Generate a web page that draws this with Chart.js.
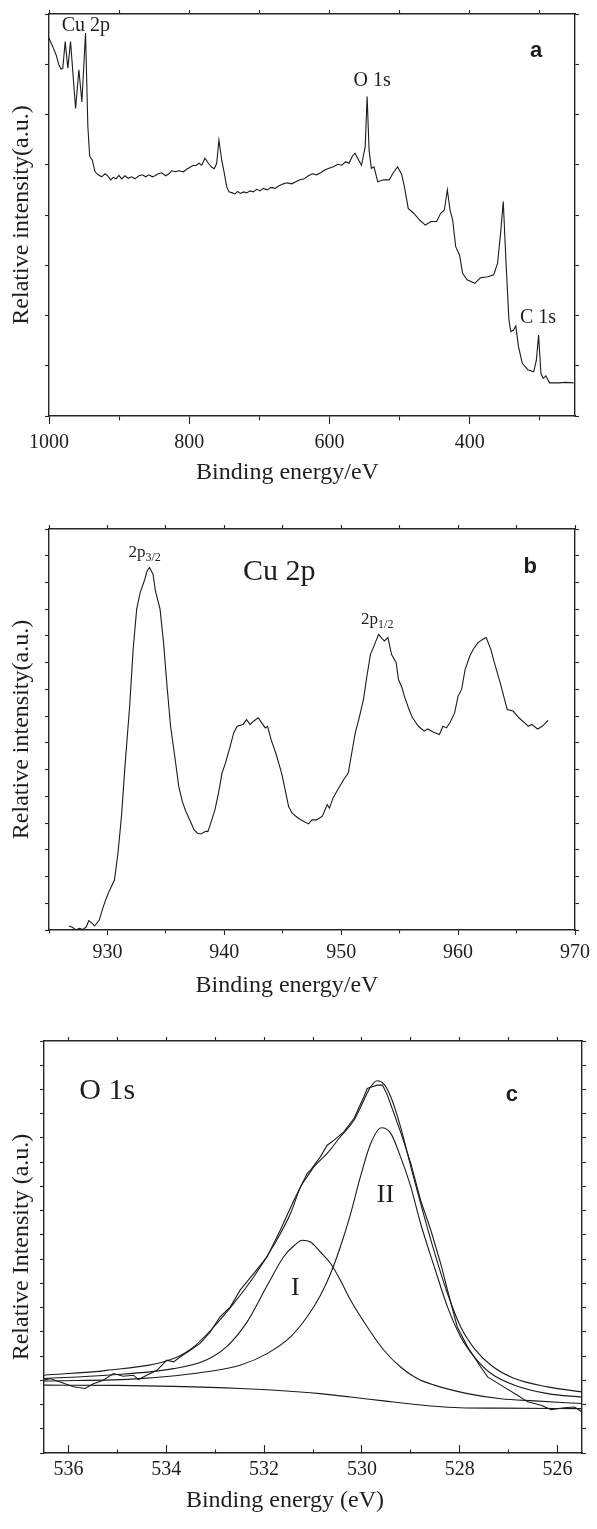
<!DOCTYPE html>
<html>
<head>
<meta charset="utf-8">
<script src="https://cdn.jsdelivr.net/npm/chart.js@4.4.1/dist/chart.umd.min.js"></script>
<style>
html, body { margin: 0; padding: 0; background: #ffffff; }
body { width: 597px; height: 1529px; position: relative; overflow: hidden; }
canvas { position: absolute; left: 0; }
</style>
</head>
<body>
<canvas id="chartA" width="597" height="500" style="top:0px"></canvas>
<canvas id="chartB" width="597" height="510" style="top:500px"></canvas>
<canvas id="chartC" width="597" height="519" style="top:1010px"></canvas>
<script>
// ---------------- Panel a : survey spectrum ----------------
const surveyEnergy = [1000, 994.6, 989.7, 986, 982.6, 980.3, 976.9, 973.1, 969.3, 962.1, 957.4, 953.1, 947.9, 944.6, 942.1, 941.5, 938.2, 934.4, 929.7, 924.9, 920.1, 916.3, 912.0, 908.3, 904.5, 900.2, 896.4, 891.6, 886.9, 882.1, 877.4, 871.7, 866.9, 862.1, 857.4, 852.7, 848.9, 844.1, 839.3, 833.6, 828.9, 825.0, 820.3, 814.6, 808.5, 803.7, 798.9, 794.2, 790.8, 786.1, 782.3, 777.6, 772.8, 768.0, 764.3, 760.9, 757.7, 753.7, 750.0, 746.6, 743.3, 738.6, 734.8, 730.9, 727.2, 722.3, 718.1, 713.4, 708.7, 703.9, 699.1, 694.4, 688.7, 683.4, 677.7, 672.0, 665.9, 660.2, 653.9, 648.2, 642.1, 636.0, 630.2, 624.5, 618.3, 612.6, 606.4, 600.7, 594.6, 588.3, 582.6, 576.9, 572.2, 567.5, 563.7, 558.3, 554.5, 549.1, 546.4, 543.6, 540.4, 536.6, 531.2, 523.0, 514.9, 509.5, 503.0, 497.0, 493.2, 487.8, 479.7, 471.5, 463.4, 455.3, 447.2, 441.7, 436.3, 432.0, 428.2, 424.4, 420.1, 414.6, 410.3, 403.8, 392.9, 384.8, 374.0, 365.9, 360.4, 356.1, 352.3, 348.5, 344.2, 341.5, 337.7, 334.4, 330.6, 325.2, 317.1, 308.9, 305.1, 301.9, 298.6, 295.4, 291.6, 286.2, 273.7, 262.9, 252.0];
const surveyIntensity = [7.52, 7.35, 7.18, 6.99, 6.90, 6.92, 7.45, 6.92, 7.45, 6.12, 6.89, 6.25, 7.62, 5.76, 5.19, 5.16, 5.09, 4.86, 4.80, 4.76, 4.82, 4.78, 4.70, 4.75, 4.72, 4.79, 4.72, 4.78, 4.73, 4.76, 4.72, 4.78, 4.80, 4.76, 4.80, 4.76, 4.78, 4.82, 4.84, 4.78, 4.82, 4.88, 4.86, 4.88, 4.86, 4.91, 4.95, 4.99, 4.98, 5.03, 4.99, 5.13, 5.03, 4.95, 4.92, 5.03, 5.49, 5.09, 4.83, 4.56, 4.46, 4.44, 4.42, 4.47, 4.43, 4.46, 4.44, 4.48, 4.46, 4.51, 4.48, 4.53, 4.50, 4.55, 4.53, 4.58, 4.62, 4.64, 4.62, 4.66, 4.70, 4.72, 4.78, 4.82, 4.80, 4.84, 4.90, 4.93, 4.96, 5.01, 4.99, 5.06, 5.03, 5.17, 5.23, 5.09, 4.99, 5.36, 6.36, 5.29, 4.93, 4.96, 4.66, 4.70, 4.70, 4.83, 4.96, 4.80, 4.56, 4.13, 4.03, 3.90, 3.80, 3.87, 3.87, 4.03, 4.10, 4.50, 4.10, 3.90, 3.37, 3.20, 2.84, 2.71, 2.64, 2.75, 2.77, 2.81, 3.04, 3.64, 4.27, 3.10, 1.91, 1.68, 1.71, 1.79, 1.38, 1.05, 0.92, 0.88, 1.11, 1.61, 0.85, 0.75, 0.80, 0.66, 0.66, 0.67, 0.66];
const surveyTicks = [1000, 900, 800, 700, 600, 500, 400, 300];
const surveyTickLabels = [1000, 800, 600, 400];

// ---------------- Panel b : Cu 2p ----------------
const cuEnergy = [926.7, 927.0, 927.3, 927.6, 927.9, 928.2, 928.4, 928.7, 928.9, 929.3, 929.6, 929.9, 930.2, 930.6, 930.9, 931.2, 931.5, 931.9, 932.2, 932.5, 932.8, 933.2, 933.4, 933.6, 933.9, 934.1, 934.5, 934.8, 935.1, 935.4, 935.8, 936.1, 936.4, 936.7, 937.1, 937.4, 937.7, 938.0, 938.4, 938.6, 938.8, 939.2, 939.5, 939.8, 940.1, 940.5, 940.8, 941.1, 941.6, 941.9, 942.2, 942.5, 942.9, 943.2, 943.5, 943.7, 944.0, 944.4, 944.9, 945.2, 945.5, 945.8, 946.3, 946.8, 947.2, 947.5, 947.9, 948.4, 948.8, 949.0, 949.3, 949.7, 950.2, 950.6, 950.9, 951.2, 951.5, 951.9, 952.2, 952.5, 952.8, 953.2, 953.5, 953.7, 954.0, 954.3, 954.7, 954.9, 955.2, 955.4, 955.8, 956.1, 956.6, 957.1, 957.4, 957.9, 958.4, 958.7, 959.0, 959.3, 959.7, 960.0, 960.3, 960.6, 961.0, 961.3, 961.7, 962.1, 962.4, 962.8, 963.1, 963.6, 963.9, 964.2, 964.7, 965.2, 965.7, 966.0, 966.3, 966.8, 967.2, 967.7];
const cuIntensity = [0.15, 0.10, 0.00, 0.06, 0.02, 0.12, 0.35, 0.25, 0.15, 0.37, 0.81, 1.19, 1.50, 1.87, 2.87, 4.25, 6.12, 8.37, 10.50, 12.00, 12.62, 13.12, 13.44, 13.56, 13.31, 12.69, 12.00, 10.75, 9.12, 7.62, 6.37, 5.37, 4.81, 4.44, 4.06, 3.75, 3.62, 3.59, 3.69, 3.69, 3.94, 4.50, 5.12, 5.87, 6.25, 6.87, 7.37, 7.62, 7.69, 7.87, 7.69, 7.81, 7.94, 7.75, 7.56, 7.62, 7.12, 6.62, 5.87, 5.25, 4.62, 4.37, 4.19, 4.06, 3.97, 4.12, 4.12, 4.27, 4.69, 4.56, 4.94, 5.25, 5.62, 5.87, 6.62, 7.37, 7.87, 8.62, 9.50, 10.31, 10.62, 11.06, 10.90, 10.81, 10.94, 10.31, 10.00, 9.37, 9.06, 8.75, 8.25, 7.94, 7.62, 7.44, 7.52, 7.40, 7.31, 7.62, 7.56, 7.75, 8.12, 8.75, 9.00, 9.75, 10.25, 10.50, 10.75, 10.87, 10.94, 10.50, 10.00, 9.25, 8.75, 8.25, 8.19, 7.94, 7.75, 7.62, 7.69, 7.52, 7.62, 7.84];
const cuTicks = [925, 930, 935, 940, 945, 950, 955, 960, 965, 970];
const cuTickLabels = [930, 940, 950, 960, 970];

// ---------------- Panel c : O 1s ----------------
const oRawEnergy = [536.5, 536.38, 536.17, 535.90, 535.66, 535.49, 535.29, 535.08, 534.88, 534.67, 534.57, 534.40, 534.19, 533.99, 533.85, 533.72, 533.51, 533.31, 533.10, 532.90, 532.69, 532.49, 532.21, 531.94, 531.67, 531.39, 531.12, 531.05, 530.85, 530.71, 530.57, 530.37, 530.16, 529.96, 529.89, 529.79, 529.69, 529.58, 529.48, 529.21, 529.00, 528.80, 528.59, 528.39, 528.25, 528.05, 527.84, 527.57, 527.43, 527.16, 526.82, 526.61, 526.34, 526.13, 525.86, 525.65, 525.5];
const oRawIntensity = [3.00, 3.07, 2.93, 2.73, 2.66, 2.86, 3.00, 3.28, 3.17, 3.21, 3.03, 3.21, 3.41, 3.83, 3.76, 3.96, 4.24, 4.52, 5.00, 5.62, 6.03, 6.72, 7.41, 8.09, 9.19, 10.43, 11.53, 11.67, 12.22, 12.70, 12.91, 13.25, 13.81, 14.70, 15.04, 15.11, 15.18, 15.18, 14.77, 13.25, 11.95, 10.43, 9.19, 7.82, 6.72, 5.20, 4.38, 3.55, 3.14, 2.80, 2.38, 2.11, 1.97, 1.79, 1.87, 1.90, 1.69];
const oFitEnergy = [536.5, 535.22, 533.85, 533.44, 533.03, 532.62, 532.21, 531.80, 531.46, 531.26, 531.12, 530.98, 530.71, 530.44, 530.16, 529.96, 529.82, 529.69, 529.55, 529.41, 529.21, 529.00, 528.80, 528.52, 528.25, 527.98, 527.70, 527.36, 526.88, 526.20, 525.5];
const oFitIntensity = [3.21, 3.41, 3.90, 4.38, 5.20, 6.17, 7.27, 8.58, 9.88, 10.95, 11.40, 11.81, 12.36, 13.05, 13.74, 14.56, 15.11, 15.36, 15.22, 14.70, 13.46, 11.81, 10.30, 8.30, 6.58, 5.20, 4.31, 3.62, 3.07, 2.73, 2.52];
const oPeak1Energy = [536.5, 535.22, 533.85, 533.17, 532.76, 532.35, 531.94, 531.60, 531.39, 531.22, 531.05, 530.85, 530.64, 530.44, 530.23, 529.89, 529.55, 529.21, 528.87, 528.52, 527.84, 527.16, 526.47, 525.5];
const oPeak1Intensity = [3.07, 3.21, 3.48, 3.85, 4.40, 5.40, 6.90, 8.10, 8.55, 8.78, 8.71, 8.30, 7.82, 7.13, 6.30, 5.20, 4.24, 3.55, 3.07, 2.80, 2.45, 2.24, 2.15, 2.04];
const oPeak2Energy = [536.5, 534.53, 533.17, 532.49, 531.94, 531.46, 531.12, 530.85, 530.64, 530.44, 530.23, 530.03, 529.82, 529.60, 529.41, 529.21, 529.00, 528.80, 528.52, 528.25, 527.98, 527.70, 527.36, 526.88, 526.20, 525.5];
const oPeak2Intensity = [2.97, 3.07, 3.35, 3.62, 4.10, 4.79, 5.62, 6.50, 7.41, 8.51, 9.88, 11.40, 12.77, 13.42, 13.19, 12.22, 10.98, 9.47, 7.68, 6.03, 4.79, 3.96, 3.28, 2.80, 2.45, 2.31];
const oBgEnergy = [536.5, 535.0, 533.85, 532.49, 531.26, 530.85, 530.23, 529.55, 528.9, 528.52, 528.0, 527.16, 525.5];
const oBgIntensity = [2.80, 2.79, 2.75, 2.66, 2.52, 2.45, 2.31, 2.15, 2.00, 1.93, 1.87, 1.85, 1.83];
const oTicks = [536, 535, 534, 533, 532, 531, 530, 529, 528, 527, 526];
const oTickLabels = [536, 534, 532, 530, 528, 526];

// ---------------- helpers ----------------
const SERIF = '"Liberation Serif", "Times New Roman", serif';
const SANS = '"Liberation Sans", Arial, sans-serif';
const LINE = '#1b1b1b';
const AXIS = '#262626';
const TXT = '#1e1e1e';

function pts(xs, ys) { return xs.map((x, i) => ({ x: x, y: ys[i] })); }
function series(xs, ys, smooth) {
  return {
    data: pts(xs, ys), borderColor: LINE, borderWidth: 1.1, pointRadius: 0,
    fill: false, tension: 0, cubicInterpolationMode: smooth ? 'monotone' : 'default',
    xAxisID: 'x', yAxisID: 'y'
  };
}
function intRange(n) { const a = []; for (let i = 0; i <= n; i++) a.push(i); return a; }

const textOverlay = {
  id: 'textOverlay',
  afterDatasetsDraw(chart, args, opts) {
    const ctx = chart.ctx;
    const sx = chart.scales.x, sy = chart.scales.y;
    (opts.items || []).forEach(it => {
      ctx.save();
      ctx.fillStyle = TXT;
      ctx.font = it.font;
      ctx.textAlign = it.align || 'left';
      ctx.textBaseline = 'alphabetic';
      const px = it.px ? it.px[0] : sx.getPixelForValue(it.x);
      const py = it.px ? it.px[1] : sy.getPixelForValue(it.y);
      ctx.fillText(it.text, px, py);
      if (it.sub) {
        const w = ctx.measureText(it.text).width;
        ctx.font = it.subFont;
        ctx.textAlign = 'left';
        ctx.fillText(it.sub, px + w, py + it.subDy);
      }
      ctx.restore();
    });
  }
};

function makeChart(id, p) {
  const setX = s => { s.ticks = p.xTicks.map(v => ({ value: v })); };
  const yT = intRange(p.yMax);
  const setY = s => { s.ticks = yT.map(v => ({ value: v })); };
  const border = { display: true, color: AXIS, width: 1.4 };
  const gridOf = len => ({ display: true, drawOnChartArea: false, drawTicks: true, tickLength: len, color: AXIS, tickColor: AXIS, tickWidth: 1.1 });
  const xGrid = gridOf(p.xTickLen);
  xGrid.tickBorderDash = c => (c.tick && p.xLabels.indexOf(c.tick.value) < 0) ? [p.minorLen, 200] : [];
  return new Chart(document.getElementById(id), {
    type: 'line',
    data: { datasets: p.datasets },
    options: {
      responsive: false, animation: false, devicePixelRatio: 1,
      layout: { padding: 0 },
      plugins: { legend: { display: false }, tooltip: { enabled: false }, textOverlay: { items: p.items } },
      scales: {
        x: {
          type: 'linear', position: 'bottom', min: p.xMin, max: p.xMax, reverse: p.xRev,
          afterBuildTicks: setX, afterFit: s => { s.height = p.box.bottom; },
          border: border, grid: xGrid,
          ticks: {
            autoSkip: false, maxRotation: 0, minRotation: 0, padding: p.xPad, color: TXT,
            font: { family: SERIF, size: 20 },
            callback: v => (p.xLabels.indexOf(v) >= 0 ? String(v) : '')
          }
        },
        xt: {
          type: 'linear', position: 'top', min: p.xMin, max: p.xMax, reverse: p.xRev,
          afterBuildTicks: setX, afterFit: s => { s.height = p.box.top; },
          border: border, grid: gridOf(4), ticks: { display: false }
        },
        y: {
          type: 'linear', position: 'left', min: 0, max: p.yMax,
          afterBuildTicks: setY, afterFit: s => { s.width = p.box.left; },
          border: border, grid: gridOf(4), ticks: { display: false },
          title: { display: true, text: p.yTitle, color: TXT, font: { family: SERIF, size: 24 }, padding: { top: 7, bottom: 0 } }
        },
        yr: {
          type: 'linear', position: 'right', min: 0, max: p.yMax,
          afterBuildTicks: setY, afterFit: s => { s.width = p.box.right; },
          border: border, grid: gridOf(4), ticks: { display: false }
        }
      }
    },
    plugins: [textOverlay]
  });
}

// Panel a
makeChart('chartA', {
  datasets: [series(surveyEnergy, surveyIntensity, false)],
  xMin: 250, xMax: 1000, xRev: true, xTicks: surveyTicks, xLabels: surveyTickLabels,
  xTickLen: 8, minorLen: 4, xPad: 7, yMax: 8,
  box: { left: 49, right: 22, top: 14, bottom: 84 },
  yTitle: 'Relative intensity(a.u.)',
  items: [
    { text: 'Cu 2p', x: 981.9, y: 7.67, font: '20px ' + SERIF },
    { text: 'O 1s', x: 565.7, y: 6.57, font: '20px ' + SERIF },
    { text: 'C 1s', x: 328.4, y: 1.86, font: '20px ' + SERIF },
    { text: 'a', x: 314.1, y: 7.14, font: 'bold 22px ' + SANS },
    { text: 'Binding energy/eV', px: [287.5, 479], align: 'center', font: '24px ' + SERIF }
  ]
});

// Panel b
makeChart('chartB', {
  datasets: [series(cuEnergy, cuIntensity, false)],
  xMin: 925, xMax: 970, xRev: false, xTicks: cuTicks, xLabels: cuTickLabels,
  xTickLen: 5, minorLen: 3, xPad: 6, yMax: 15,
  box: { left: 49, right: 22, top: 29, bottom: 80 },
  yTitle: 'Relative intensity(a.u.)',
  items: [
    { text: '2p', sub: '3/2', x: 931.8, y: 13.97, font: '17px ' + SERIF, subFont: '12px ' + SERIF, subDy: 4 },
    { text: 'Cu 2p', x: 941.6, y: 13.09, font: '30px ' + SERIF },
    { text: 'b', x: 965.6, y: 13.37, font: 'bold 22px ' + SANS },
    { text: '2p', sub: '1/2', x: 951.7, y: 11.45, font: '17px ' + SERIF, subFont: '12px ' + SERIF, subDy: 4 },
    { text: 'Binding energy/eV', px: [287, 492], align: 'center', font: '24px ' + SERIF }
  ]
});

// Panel c
makeChart('chartC', {
  datasets: [
    series(oRawEnergy, oRawIntensity, false),
    series(oFitEnergy, oFitIntensity, true),
    series(oPeak1Energy, oPeak1Intensity, true),
    series(oPeak2Energy, oPeak2Intensity, true),
    series(oBgEnergy, oBgIntensity, true)
  ],
  xMin: 525.5, xMax: 536.5, xRev: true, xTicks: oTicks, xLabels: oTickLabels,
  xTickLen: -8, minorLen: 4, xPad: 13, yMax: 17,
  box: { left: 44, right: 15, top: 31, bottom: 76 },
  yTitle: 'Relative Intensity (a.u.)',
  items: [
    { text: 'O 1s', x: 535.78, y: 14.59, font: '30px ' + SERIF },
    { text: 'c', x: 527.06, y: 14.53, font: 'bold 22px ' + SANS },
    { text: 'I', x: 531.36, y: 6.51, align: 'center', font: '26px ' + SERIF },
    { text: 'II', x: 529.52, y: 10.36, align: 'center', font: '26px ' + SERIF },
    { text: 'Binding energy (eV)', px: [285, 497], align: 'center', font: '24px ' + SERIF }
  ]
});
</script>
</body>
</html>
